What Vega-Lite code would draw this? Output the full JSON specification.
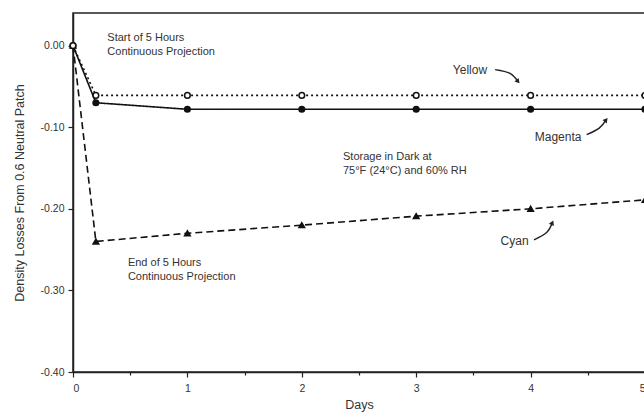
{
  "$schema": "https://vega.github.io/schema/vega-lite/v6.json",
  "width": 572,
  "height": 359,
  "autosize": "none",
  "padding": {"left": 73, "top": 13, "right": 0, "bottom": 42},
  "background": "white",
  "config": {
    "font": "Liberation Sans",
    "view": {"stroke": "#222", "strokeWidth": 1.5},
    "axis": {
      "grid": false,
      "domainColor": "#222",
      "domainWidth": 1.5,
      "tickColor": "#222",
      "tickWidth": 1.2,
      "labelFont": "Liberation Sans",
      "labelFontSize": 10.5,
      "labelColor": "#333",
      "titleFont": "Liberation Sans",
      "titleFontSize": 12.5,
      "titleFontWeight": "normal",
      "titleColor": "#333"
    }
  },
  "datasets": {
    "series": [
      {"dye": "Yellow", "day": 0, "loss": 0},
      {"dye": "Yellow", "day": 0.2, "loss": -0.061},
      {"dye": "Yellow", "day": 1, "loss": -0.061},
      {"dye": "Yellow", "day": 2, "loss": -0.061},
      {"dye": "Yellow", "day": 3, "loss": -0.061},
      {"dye": "Yellow", "day": 4, "loss": -0.061},
      {"dye": "Yellow", "day": 5, "loss": -0.061},
      {"dye": "Magenta", "day": 0, "loss": 0},
      {"dye": "Magenta", "day": 0.2, "loss": -0.070},
      {"dye": "Magenta", "day": 1, "loss": -0.078},
      {"dye": "Magenta", "day": 2, "loss": -0.078},
      {"dye": "Magenta", "day": 3, "loss": -0.078},
      {"dye": "Magenta", "day": 4, "loss": -0.078},
      {"dye": "Magenta", "day": 5, "loss": -0.078},
      {"dye": "Cyan", "day": 0, "loss": 0},
      {"dye": "Cyan", "day": 0.2, "loss": -0.240},
      {"dye": "Cyan", "day": 1, "loss": -0.230},
      {"dye": "Cyan", "day": 2, "loss": -0.220},
      {"dye": "Cyan", "day": 3, "loss": -0.209},
      {"dye": "Cyan", "day": 4, "loss": -0.200},
      {"dye": "Cyan", "day": 5, "loss": -0.189}
    ],
    "notes": [
      {"label": "Start of 5 Hours\nContinuous Projection", "day": 0.3, "loss": 0.0098},
      {"label": "Storage in Dark at\n75°F (24°C) and 60% RH", "day": 2.36, "loss": -0.136},
      {"label": "End of 5 Hours\nContinuous Projection", "day": 0.48, "loss": -0.266}
    ],
    "dyeLabels": [
      {"label": "Yellow", "day": 3.47, "loss": -0.0294},
      {"label": "Magenta", "day": 4.24, "loss": -0.112},
      {"label": "Cyan", "day": 3.86, "loss": -0.240}
    ],
    "arrows": [
      {"arrow": "Yellow", "k": 0, "day": 3.69, "loss": -0.0294},
      {"arrow": "Yellow", "k": 1, "day": 3.82, "loss": -0.034},
      {"arrow": "Yellow", "k": 2, "day": 3.89, "loss": -0.044},
      {"arrow": "Magenta", "k": 0, "day": 4.49, "loss": -0.109},
      {"arrow": "Magenta", "k": 1, "day": 4.60, "loss": -0.101},
      {"arrow": "Magenta", "k": 2, "day": 4.66, "loss": -0.091},
      {"arrow": "Cyan", "k": 0, "day": 4.03, "loss": -0.238},
      {"arrow": "Cyan", "k": 1, "day": 4.14, "loss": -0.229},
      {"arrow": "Cyan", "k": 2, "day": 4.19, "loss": -0.217}
    ]
  },
  "layer": [
    {
      "data": {"name": "series"},
      "mark": {"type": "line", "color": "#111", "strokeWidth": 1.6},
      "encoding": {
        "x": {
          "field": "day", "type": "quantitative",
          "scale": {"domain": [0, 5], "nice": false},
          "axis": {
            "values": [0, 0.5, 1, 1.5, 2, 2.5, 3, 3.5, 4, 4.5, 5],
            "labelExpr": "datum.value % 1 === 0 ? format(datum.value, 'd') : ''",
            "tickSize": {"condition": {"test": "datum.value % 1 !== 0", "value": 3}, "value": 5},
            "labelPadding": 6,
            "title": "Days",
            "titlePadding": 5
          }
        },
        "y": {
          "field": "loss", "type": "quantitative",
          "scale": {"domain": [-0.4, 0.04], "nice": false, "zero": false},
          "axis": {
            "values": [0, -0.1, -0.2, -0.3, -0.4],
            "labelExpr": "replace(format(datum.value, '.2f'), '\u2212', '-')",
            "tickSize": 5,
            "labelPadding": 4,
            "title": "Density Losses From 0.6 Neutral Patch",
            "titlePadding": 14
          }
        },
        "detail": {"field": "dye"},
        "strokeDash": {
          "field": "dye", "type": "nominal",
          "scale": {"domain": ["Yellow", "Magenta", "Cyan"], "range": [[2, 3], [1, 0], [7, 4]]},
          "legend": null
        }
      }
    },
    {
      "data": {"name": "series"},
      "mark": {"type": "point", "stroke": "#111", "strokeWidth": 1.5, "size": 32, "opacity": 1},
      "encoding": {
        "x": {"field": "day", "type": "quantitative"},
        "y": {"field": "loss", "type": "quantitative"},
        "shape": {
          "field": "dye", "type": "nominal",
          "scale": {"domain": ["Yellow", "Magenta", "Cyan"], "range": ["circle", "circle", "triangle-up"]},
          "legend": null
        },
        "fill": {
          "field": "dye", "type": "nominal",
          "scale": {"domain": ["Yellow", "Magenta", "Cyan"], "range": ["white", "#111", "#111"]},
          "legend": null
        },
        "order": {"field": "dye", "sort": "ascending"}
      }
    },
    {
      "data": {"name": "notes"},
      "mark": {"type": "text", "align": "left", "baseline": "middle", "fontSize": 11, "color": "#333", "lineBreak": "\n", "lineHeight": 14},
      "encoding": {
        "x": {"field": "day", "type": "quantitative"},
        "y": {"field": "loss", "type": "quantitative"},
        "text": {"field": "label"}
      }
    },
    {
      "data": {"name": "dyeLabels"},
      "mark": {"type": "text", "align": "center", "baseline": "middle", "fontSize": 12, "color": "#333"},
      "encoding": {
        "x": {"field": "day", "type": "quantitative"},
        "y": {"field": "loss", "type": "quantitative"},
        "text": {"field": "label"}
      }
    },
    {
      "data": {"name": "arrows"},
      "mark": {"type": "line", "color": "#222", "strokeWidth": 1.5, "interpolate": "natural"},
      "encoding": {
        "x": {"field": "day", "type": "quantitative"},
        "y": {"field": "loss", "type": "quantitative"},
        "detail": {"field": "arrow"},
        "order": {"field": "k"}
      }
    },
    {
      "data": {"name": "arrows"},
      "transform": [{"filter": "datum.k === 2 && datum.arrow === 'Yellow'"}],
      "mark": {"type": "point", "shape": "triangle-up", "filled": true, "color": "#222", "size": 30, "angle": 140, "opacity": 1},
      "encoding": {
        "x": {"field": "day", "type": "quantitative"},
        "y": {"field": "loss", "type": "quantitative"}
      }
    },
    {
      "data": {"name": "arrows"},
      "transform": [{"filter": "datum.k === 2 && datum.arrow === 'Magenta'"}],
      "mark": {"type": "point", "shape": "triangle-up", "filled": true, "color": "#222", "size": 30, "angle": 40, "opacity": 1},
      "encoding": {
        "x": {"field": "day", "type": "quantitative"},
        "y": {"field": "loss", "type": "quantitative"}
      }
    },
    {
      "data": {"name": "arrows"},
      "transform": [{"filter": "datum.k === 2 && datum.arrow === 'Cyan'"}],
      "mark": {"type": "point", "shape": "triangle-up", "filled": true, "color": "#222", "size": 30, "angle": 25, "opacity": 1},
      "encoding": {
        "x": {"field": "day", "type": "quantitative"},
        "y": {"field": "loss", "type": "quantitative"}
      }
    }
  ]
}
